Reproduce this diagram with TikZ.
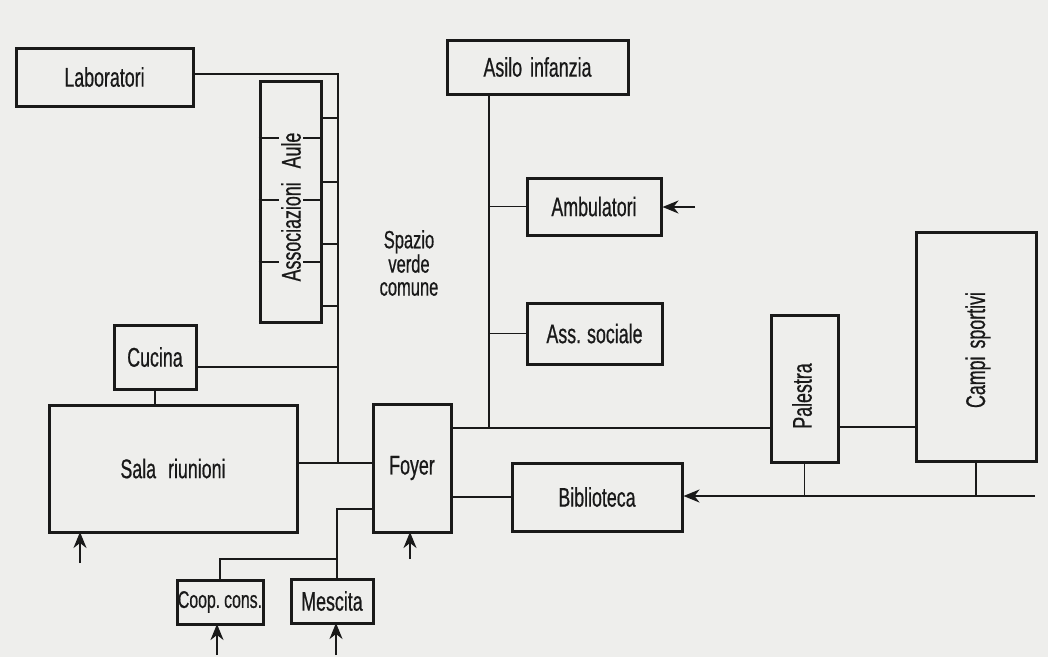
\documentclass[tikz,border=0pt]{standalone}
\usepackage{fontspec}
\setmainfont{Liberation Sans}[FakeStretch=0.66,FakeBold=0.6]
\usetikzlibrary{arrows.meta}
\definecolor{paper}{RGB}{238,238,236}
\definecolor{ink}{RGB}{25,25,25}

\begin{document}
\begin{tikzpicture}[x=1pt,y=1pt,yscale=-1,
  room/.style={draw=ink, line width=3pt, inner sep=0pt, text=ink, font=\fontsize{27}{30}\selectfont},
  txt/.style={inner sep=0pt, text=ink, font=\fontsize{27}{30}\selectfont},
  link/.style={draw=ink, line width=1.9pt},
  entry/.style={link, -{Stealth[length=16pt,width=13pt,inset=5pt]}}]
  % paper
  \fill[paper] (0,0) rectangle (1048,657);
  \useasboundingbox (0,0) rectangle (1048,657);

  % Rooms
  \node[room, minimum width=177pt, minimum height=58pt] (lab) at (104.5,77) {Laboratori};
  \node[room, minimum width=61pt, minimum height=241pt] (aule) at (290.5,201.5) {};
  \node[txt, rotate=90] (auletxt) at (291,207) {Associazioni\hspace{14pt}Aule};
  \node[room, minimum width=82pt, minimum height=64pt] (cucina) at (155,357) {Cucina};
  \node[room, minimum width=248pt, minimum height=127pt] (sala) at (173,468.5) {Sala\hspace{12pt}riunioni\hspace{20pt}};
  \node[room, minimum width=78pt, minimum height=128pt] (foyer) at (412,468) {Foyer};
  \node[room, minimum width=86pt, minimum height=44pt, font=\fontsize{24}{26}\selectfont] (coop) at (220,602) {Coop.\,cons.};
  \node[room, minimum width=82pt, minimum height=44pt] (mescita) at (332,601) {Mescita};
  \node[room, minimum width=181pt, minimum height=54pt] (asilo) at (537.5,67) {Asilo\hspace{8pt}infanzia};
  \node[room, minimum width=134pt, minimum height=57pt] (ambul) at (594,206.5) {Ambulatori};
  \node[room, minimum width=135pt, minimum height=61pt] (sociale) at (594.5,333.5) {Ass.\hspace{6pt}sociale};
  \node[room, minimum width=67pt, minimum height=147pt] (palestra) at (804.5,388.5) {};
  \node[txt, rotate=90] (palestratxt) at (802,396) {Palestra};
  \node[room, minimum width=120pt, minimum height=229pt] (campi) at (976,346.5) {};
  \node[txt, rotate=90] (campitxt) at (978,350) {Campi\hspace{8pt}sportivi};
  \node[room, minimum width=170pt, minimum height=68pt] (biblio) at (597,497) {Biblioteca};

  % Open space
  \node[txt, align=center, font=\fontsize{25}{23}\selectfont] (verde) at (409,263) {Spazio\\verde\\comune};

  % Junctions
  \coordinate (top) at (338,74);
  \coordinate (hub) at (338,463);
  \coordinate (asse) at (489,428);
  \coordinate (bar) at (337,509);
  \coordinate (bivio) at (337,559);
  \coordinate (rim) at (1035,496);
  \coordinate (ambin) at (695,207);

  % Left spine
  \draw[link] (lab.east |- top) -- (top) -- (hub);
  \foreach \y in {118,182,244,306}
    \draw[link] (aule.east |- 0,\y) -- (338,\y);
  \foreach \y in {138,200,262} {
    \draw[link] (aule.west |- 0,\y) -- ++(20,0);
    \draw[link] (aule.east |- 0,\y) -- ++(-20,0);
  }
  \draw[link] (cucina.east |- 0,367) -- (338,367);
  \draw[link] (cucina.south) -- (cucina.south |- sala.north);
  \draw[link] (sala.east |- hub) -- (foyer.west |- hub);

  % Foyer to the south
  \draw[link] (foyer.west |- bar) -- (bar) -- (bar |- mescita.north);
  \draw[link] (bivio) -| (coop.north);

  % Foyer to the east
  \draw[link] (foyer.east |- asse) -- (palestra.west |- asse);
  \draw[link] (asse |- asilo.south) -- (asse);
  \draw[link] (ambul.west) -- (ambul.west -| asse);
  \draw[link] (sociale.west) -- (sociale.west -| asse);
  \draw[link] (palestra.east |- 0,427) -- (campi.west |- 0,427);
  \draw[link] (foyer.east |- biblio.west) -- (biblio.west);
  \draw[link] (palestra.south) -- (palestra.south |- rim);
  \draw[link] (campi.south) -- (campi.south |- rim);

  % Entrances
  \draw[entry] (rim) -- (biblio.east |- rim);
  \draw[entry] (ambin) -- (ambul.east |- ambin);
  \draw[entry] (80,563) -- (80,532);
  \draw[entry] (410,559) -- (410,532);
  \draw[entry] (217,655) -- (217,624);
  \draw[entry] (336,655) -- (336,623);
\end{tikzpicture}
\end{document}
